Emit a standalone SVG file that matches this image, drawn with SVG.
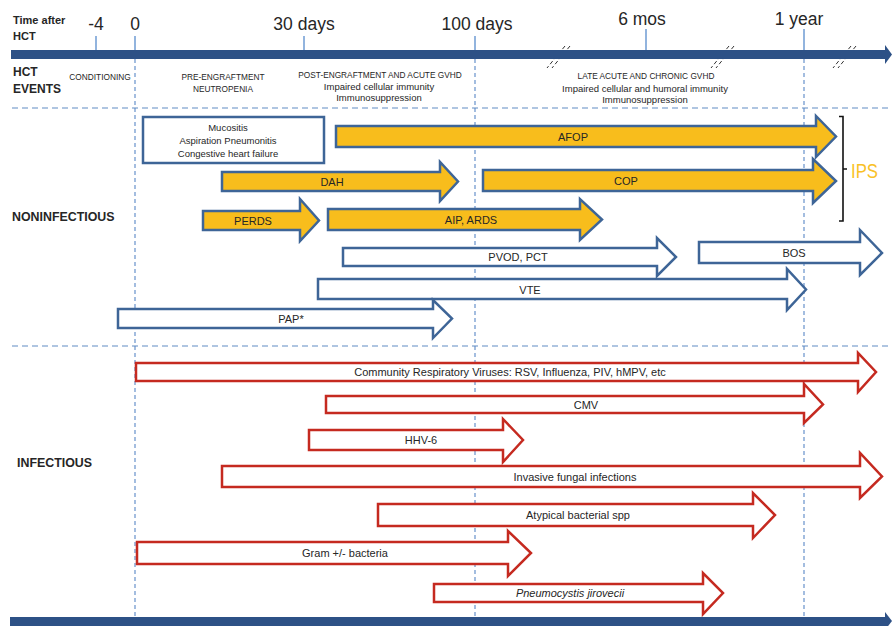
<svg xmlns="http://www.w3.org/2000/svg" width="892" height="626" viewBox="0 0 892 626">
<style>
text{font-family:"Liberation Sans",Arial,sans-serif;fill:#262626}
.b{font-weight:bold}
.tl{font-size:17.5px;text-anchor:middle}
.cap{font-size:8.3px;text-anchor:middle}
.low{font-size:9.5px;text-anchor:middle}
.lab{font-size:11px;text-anchor:middle}
.blue{stroke:#3e6597;stroke-width:2.5;stroke-linejoin:miter}
.gold{fill:#f8bd1c}
.white{fill:#ffffff}
.red{stroke:#c52a20;stroke-width:2.5;fill:#ffffff;stroke-linejoin:miter}
.tick{stroke:#6e9bd3;stroke-width:1.5}
.vdash{stroke:#5a88c6;stroke-width:1.1;stroke-dasharray:4 3;fill:none}
.hdash{stroke:#95b3d7;stroke-width:1.5;stroke-dasharray:6 4;fill:none}
.brk{stroke:#333;stroke-width:1;stroke-dasharray:4 2.5;fill:none}
</style>

<g id="grid">
<line class="hdash" x1="12" y1="108" x2="892" y2="108"/>
<line class="hdash" x1="12" y1="346" x2="892" y2="346"/>
<line class="vdash" x1="135" y1="59" x2="135" y2="617"/>
<line class="vdash" x1="475" y1="59" x2="475" y2="617"/>
<line class="vdash" x1="804" y1="59" x2="804" y2="617"/>
</g>

<g id="timeline">
<line class="tick" x1="96" y1="36" x2="96" y2="51"/>
<line class="tick" x1="135" y1="36" x2="135" y2="51"/>
<line class="tick" x1="304" y1="36" x2="304" y2="51"/>
<line class="tick" x1="475" y1="36" x2="475" y2="51"/>
<line class="tick" x1="646" y1="29" x2="646" y2="51"/>
<line class="tick" x1="804" y1="29" x2="804" y2="51"/>
<line class="brk" x1="565" y1="46" x2="547" y2="68"/>
<line class="brk" x1="570" y1="46" x2="552" y2="68"/>
<line class="brk" x1="729" y1="46" x2="711" y2="68"/>
<line class="brk" x1="734" y1="46" x2="716" y2="68"/>
<line class="brk" x1="851" y1="46" x2="833" y2="68"/>
<line class="brk" x1="856" y1="46" x2="838" y2="68"/>
<rect x="11" y="50" width="875" height="9" fill="#2d5186"/>
<polygon points="885,45 892,54.5 885,64" fill="#2d5186"/>
<rect x="10" y="617" width="876" height="12" fill="#2d5186"/>
<polygon points="885,612 892,621 885,630" fill="#2d5186"/>
<text class="b" x="13" y="24" style="font-size:11px">Time after</text>
<text class="b" x="13" y="40" style="font-size:11px">HCT</text>
<text class="tl" x="96" y="30">-4</text>
<text class="tl" x="135" y="30">0</text>
<text class="tl" x="304" y="30">30 days</text>
<text class="tl" x="477" y="30">100 days</text>
<text class="tl" x="642" y="25">6 mos</text>
<text class="tl" x="799" y="25">1 year</text>
</g>

<g id="events">
<text class="b" x="13" y="76" style="font-size:12px">HCT</text>
<text class="b" x="13" y="93" style="font-size:12px">EVENTS</text>
<text class="cap" x="100" y="80">CONDITIONING</text>
<text class="cap" x="223" y="80">PRE-ENGRAFTMENT</text>
<text class="cap" x="223" y="92">NEUTROPENIA</text>
<text class="cap" x="380" y="78">POST-ENGRAFTMENT AND ACUTE GVHD</text>
<text class="low" x="379" y="90">Impaired cellular immunity</text>
<text class="low" x="379" y="101">Immunosuppression</text>
<text class="cap" x="646" y="79">LATE ACUTE AND CHRONIC GVHD</text>
<text class="low" x="645" y="91.5">Impaired cellular and humoral immunity</text>
<text class="low" x="645" y="102.5">Immunosuppression</text>
</g>

<g id="section-labels">
<text class="b" x="12" y="220.5" style="font-size:12.4px">NONINFECTIOUS</text>
<text class="b" x="17" y="466.5" style="font-size:12.4px">INFECTIOUS</text>
</g>

<g id="early-box">
<rect x="143" y="117" width="181" height="46" fill="#ffffff" class="blue"/>
<text class="low" x="228" y="130.5">Mucositis</text>
<text class="low" x="228" y="143.5">Aspiration Pneumonitis</text>
<text class="low" x="228" y="156.5">Congestive heart failure</text>
</g>

<g id="afop">
<path class="blue gold" d="M336,126 L816,126 L816,116 L836,136.5 L816,157 L816,147 L336,147 Z"/>
<text class="lab" x="573" y="140.5">AFOP</text>
</g>
<g id="cop">
<path class="blue gold" d="M483,170 L813,170 L813,159 L836,181 L813,203 L813,191 L483,191 Z"/>
<text class="lab" x="626" y="185">COP</text>
</g>
<g id="dah">
<path class="blue gold" d="M222,172 L440,172 L440,162 L458,181.5 L440,201 L440,191 L222,191 Z"/>
<text class="lab" x="332" y="185.5">DAH</text>
</g>
<g id="perds">
<path class="blue gold" d="M203,211 L300,211 L300,199 L319,220.5 L300,241 L300,230 L203,230 Z"/>
<text class="lab" x="253" y="224.5">PERDS</text>
</g>
<g id="aip">
<path class="blue gold" d="M328,209 L580,209 L580,199 L602,219.5 L580,240 L580,230 L328,230 Z"/>
<text class="lab" x="471" y="223.5">AIP, ARDS</text>
</g>
<g id="pvod">
<path class="blue white" d="M343,248 L657,248 L657,238 L676,257 L657,276 L657,266 L343,266 Z"/>
<text class="lab" x="518" y="261">PVOD, PCT</text>
</g>
<g id="bos">
<path class="blue white" d="M699,242 L860,242 L860,230 L882,253 L860,275 L860,263 L699,263 Z"/>
<text class="lab" x="794" y="257">BOS</text>
</g>
<g id="vte">
<path class="blue white" d="M318,279 L787,279 L787,269 L806,289.5 L787,310 L787,299 L318,299 Z"/>
<text class="lab" x="530" y="293.5">VTE</text>
</g>
<g id="pap">
<path class="blue white" d="M118,309 L433,309 L433,300 L452,318.5 L433,338 L433,328 L118,328 Z"/>
<text class="lab" x="291" y="322.5">PAP*</text>
</g>

<g id="ips">
<path d="M839,116.5 L843,116.5 L843,221 L839,221 M843,169 L847,169" fill="none" stroke="#111" stroke-width="1.6"/>
<text x="851" y="178" style="font-size:20px;fill:#f9c127" textLength="27" lengthAdjust="spacingAndGlyphs">IPS</text>
</g>

<g id="crv">
<path class="red" d="M136,363 L858,363 L858,353 L876,372 L858,392 L858,381 L136,381 Z"/>
<text class="lab" x="510" y="376">Community Respiratory Viruses: RSV, Influenza, PIV, hMPV, etc</text>
</g>
<g id="cmv">
<path class="red" d="M326,396 L804,396 L804,384 L823,404.5 L804,423 L804,413 L326,413 Z"/>
<text class="lab" x="586" y="408.5">CMV</text>
</g>
<g id="hhv6">
<path class="red" d="M309,430 L503,430 L503,419 L523,440 L503,462 L503,450 L309,450 Z"/>
<text class="lab" x="421" y="444">HHV-6</text>
</g>
<g id="ifi">
<path class="red" d="M222,466 L860,466 L860,453 L882,476.5 L860,498 L860,487 L222,487 Z"/>
<text class="lab" x="575" y="480.5">Invasive fungal infections</text>
</g>
<g id="atypical">
<path class="red" d="M378,504 L753,504 L753,493 L775,515 L753,538 L753,526 L378,526 Z"/>
<text class="lab" x="578" y="519">Atypical bacterial spp</text>
</g>
<g id="gram">
<path class="red" d="M137,542 L508,542 L508,531 L531,553 L508,576 L508,564 L137,564 Z"/>
<text class="lab" x="345" y="557">Gram +/- bacteria</text>
</g>
<g id="pcp">
<path class="red" d="M434,584 L703,584 L703,573 L723,593 L703,614 L703,602 L434,602 Z"/>
<text class="lab" x="570" y="597" style="font-style:italic">Pneumocystis jirovecii</text>
</g>
</svg>
